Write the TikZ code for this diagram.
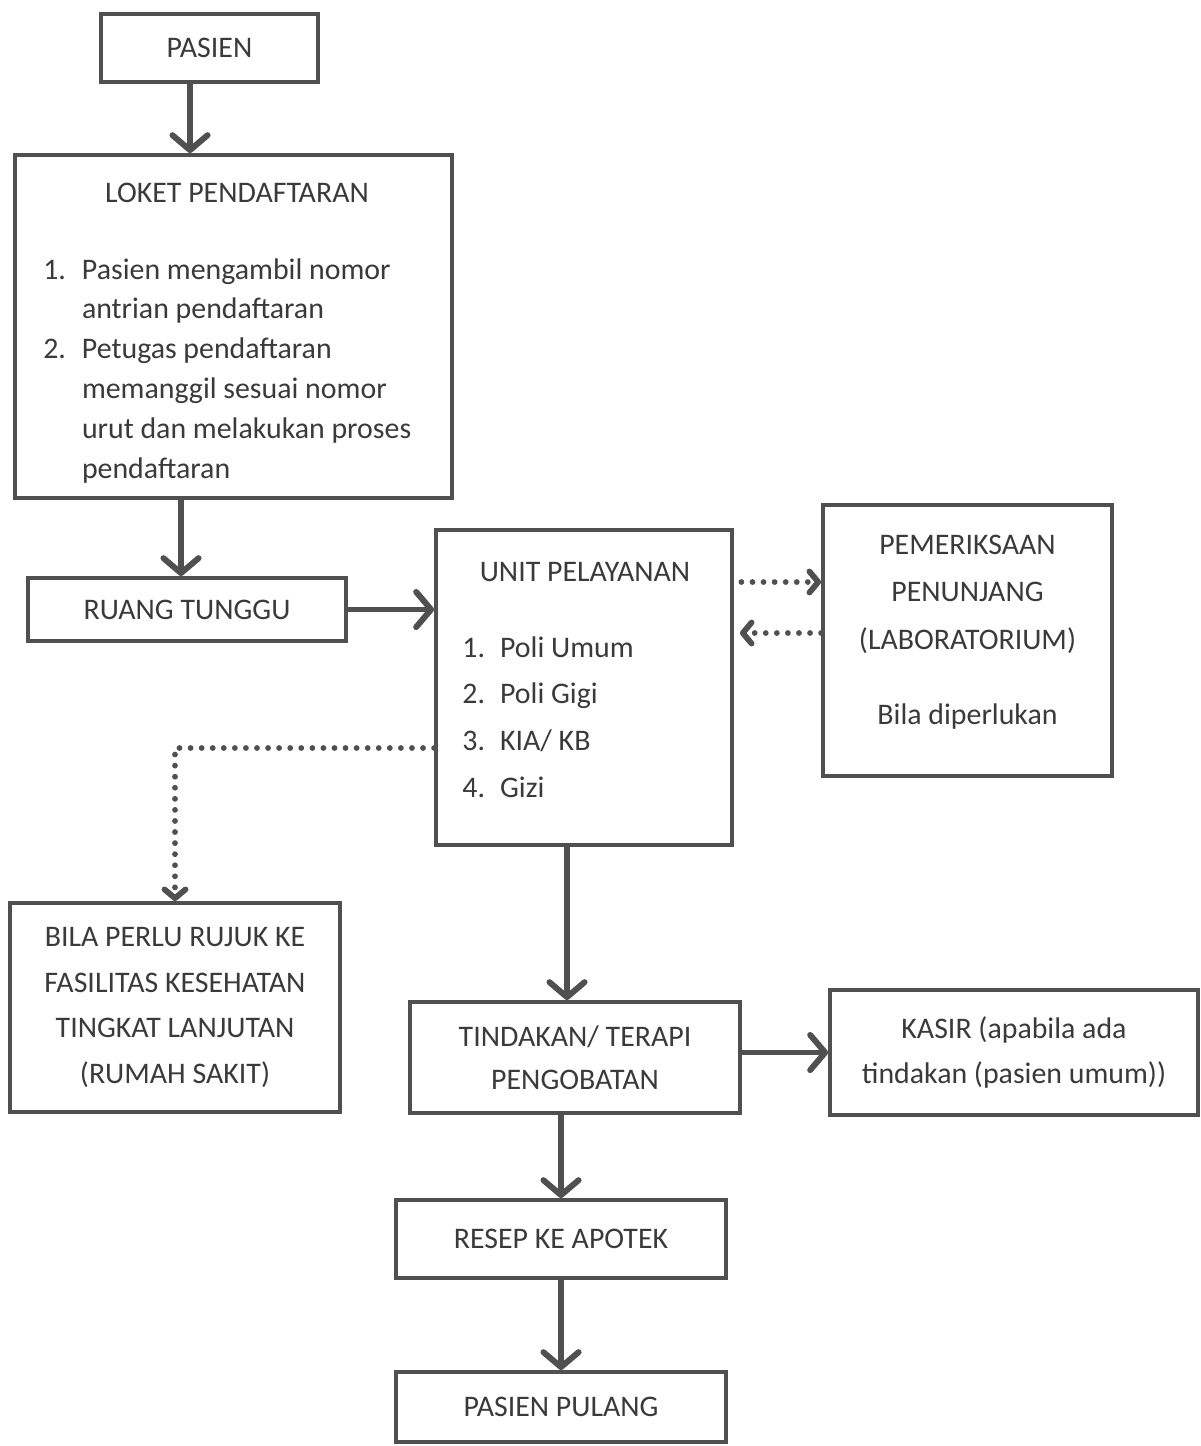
\documentclass[tikz,border=0pt]{standalone}
\usepackage{fontspec}
\setmainfont{Carlito}
\usetikzlibrary{arrows.meta}

\definecolor{linegray}{HTML}{505050}
\definecolor{textgray}{HTML}{3A3A3A}

\tikzset{
    box/.style={draw=linegray, line width=2.2pt, inner sep=0pt, text=textgray,
        align=center, font=\fontsize{17}{26}\selectfont},
    txt/.style={text=textgray, inner sep=0pt, font=\fontsize{17}{22.7}\selectfont},
    flow/.style={draw=linegray, line width=3.4pt,
        -{Straight Barb[length=8.5pt,width=20pt,round]}},
    optflow/.style={draw=linegray, line width=3.3pt, line cap=round,
        dash pattern=on 0pt off 6.3pt,
        -{Straight Barb[length=5pt,width=12pt,round]}}
}

\begin{document}
\begin{tikzpicture}[x=0.02cm, y=-0.02cm]
    \useasboundingbox (0,0) rectangle (1200,1446);

    % kotak alur
    \node[box, minimum width=4.34cm, minimum height=1.36cm] (pasien) at (209.5,48) {PASIEN};
    \node[box, minimum width=8.74cm, minimum height=6.86cm] (loket) at (233.5,326.5) {};
    \node[txt, anchor=base] (loketjudul) at (237,203) {LOKET PENDAFTARAN};
    \node[txt, align=left, anchor=north west] (loketisi) at (43,258) {%
        \makebox[22pt][l]{1.}Pasien mengambil nomor\\
        \hspace*{22pt}antrian pendaftaran\\
        \makebox[22pt][l]{2.}Petugas pendaftaran\\
        \hspace*{22pt}memanggil sesuai nomor\\
        \hspace*{22pt}urut dan melakukan proses\\
        \hspace*{22pt}pendaftaran};
    \node[box, minimum width=6.36cm, minimum height=1.26cm] (ruang) at (187,609.5) {RUANG TUNGGU};

    \node[box, minimum width=5.92cm, minimum height=6.3cm] (unit) at (584,687.5) {};
    \node[txt, anchor=base] (unitjudul) at (585,581) {UNIT PELAYANAN};
    \node[txt, align=left, anchor=north west, font=\fontsize{17}{26.6}\selectfont] (unitisi) at (462,636) {%
        \makebox[21.5pt][l]{1.}Poli Umum\\
        \makebox[21.5pt][l]{2.}Poli Gigi\\
        \makebox[21.5pt][l]{3.}KIA/ KB\\
        \makebox[21.5pt][l]{4.}Gizi};

    \node[box, minimum width=5.78cm, minimum height=5.42cm, font=\fontsize{17}{27}\selectfont] (penunjang) at (967.5,640.5)
        {PEMERIKSAAN\\PENUNJANG\\(LABORATORIUM)\\[16pt]Bila diperlukan\rule[-12pt]{0pt}{0pt}};
    \node[box, minimum width=6.6cm, minimum height=4.18cm] (rujuk) at (175,1007.5)
        {BILA PERLU RUJUK KE\\FASILITAS KESEHATAN\\TINGKAT LANJUTAN\\(RUMAH SAKIT)};
    \node[box, minimum width=6.6cm, minimum height=2.22cm, font=\fontsize{17}{24.5}\selectfont] (tindakan) at (575,1057.5)
        {TINDAKAN/ TERAPI\\PENGOBATAN};
    \node[box, minimum width=7.36cm, minimum height=2.5cm] (kasir) at (1014,1052.5)
        {KASIR (apabila ada\\tindakan (pasien umum))};
    \node[box, minimum width=6.6cm, minimum height=1.56cm] (resep) at (561,1239) {RESEP KE APOTEK};
    \node[box, minimum width=6.6cm, minimum height=1.4cm] (pulang) at (561,1407) {PASIEN PULANG};

    % panah
    \draw[flow] ([xshift=-0.39cm]pasien.south) -- ([xshift=-0.39cm]pasien.south |- loket.north);
    \draw[flow] ([xshift=-0.12cm]loket.south -| ruang.north) -- ([xshift=-0.12cm]ruang.north);
    \draw[flow] (ruang.east) -- (ruang.east -| unit.west);
    \draw[optflow] ([xshift=0.15cm,yshift=2.11cm]unit.east) -- ([yshift=2.11cm]unit.east -| penunjang.west);
    \draw[optflow] ([yshift=1.09cm]unit.east -| penunjang.west) -- ([xshift=0.12cm,yshift=1.09cm]unit.east);
    \draw[optflow] ([yshift=-1.21cm]unit.west) -| (rujuk.north);
    \draw[flow] ([xshift=-0.16cm]tindakan.north |- unit.south) -- ([xshift=-0.16cm]tindakan.north);
    \draw[flow] (kasir.west -| tindakan.east) -- (kasir.west);
    \draw[flow] (tindakan.south -| resep.north) -- (resep.north);
    \draw[flow] (resep.south) -- (pulang.north);
\end{tikzpicture}
\end{document}
